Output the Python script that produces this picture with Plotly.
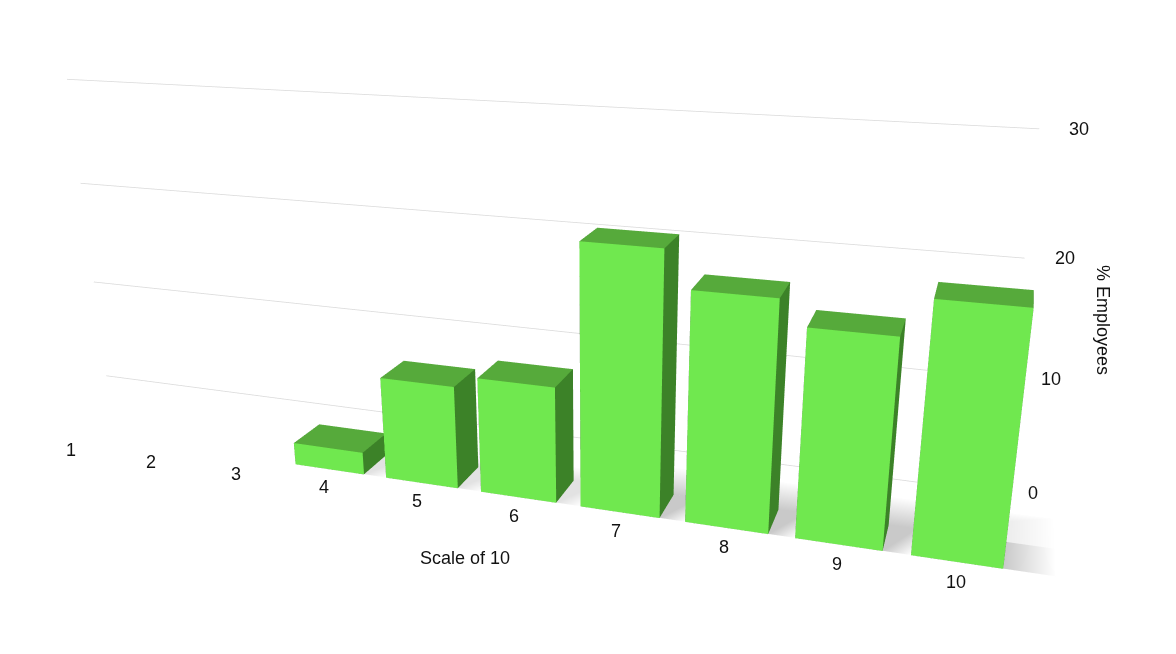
import plotly.graph_objects as go

# survey answers, scale of 10
scores = [1, 2, 3, 4, 5, 6, 7, 8, 9, 10]
pct_employees = [0, 0, 0, 2, 9, 10, 22, 19, 17, 20]
z_ticks = [0, 10, 20, 30]

front = "#70e84f"
side = "#3c8228"
top = "#56aa3b"

X0, X1 = 0.2, 11.6       # scene x range
WALL_END = 10.3          # where grid lines stop
Y0, Y1 = 0.0, 1.6
U = 0.28                 # scene units per category

xs, ys, zs, ii, jj, kk, fc = [], [], [], [], [], [], []
half = 0.38
b0, b1 = 0.1, 0.6
for s, v in zip(scores, pct_employees):
    if v <= 0:
        continue
    n = len(xs)
    for z in (0, v):
        for (x, y) in ((s - half, b0), (s + half, b0), (s + half, b1), (s - half, b1)):
            xs.append(x); ys.append(y); zs.append(z)
    faces = [
        ((0, 1, 5), front), ((0, 5, 4), front),      # front
        ((1, 2, 6), side), ((1, 6, 5), side),        # right
        ((4, 5, 6), top), ((4, 6, 7), top),          # top
        ((3, 0, 4), side), ((3, 4, 7), side),        # left
        ((2, 3, 7), side), ((2, 7, 6), side),        # back
        ((0, 2, 1), side), ((0, 3, 2), side),        # bottom
    ]
    for (a, b, c), col in faces:
        ii.append(n + a); jj.append(n + b); kk.append(n + c); fc.append(col)

# soft floor shadow behind / right of each bar
sx, sy, sz, si, sj, sk, sc = [], [], [], [], [], [], []


def quad(pts, cols):
    n = len(sx)
    for (x, y), c in zip(pts, cols):
        sx.append(x); sy.append(y); sz.append(0.02); sc.append(c)
    si.extend([n, n]); sj.extend([n + 1, n + 2]); sk.extend([n + 2, n + 3])


for s, v in zip(scores, pct_employees):
    if v <= 0:
        continue
    last = s == scores[-1]
    g = "#c9c9c9" if v >= 15 else "#e2e2e2"
    w = "#ffffff"
    far = b1 + (0.6 if v >= 15 else 0.3)
    reach = 0.8 if last else 1 - half
    quad([(s - half, b1), (s + reach, b1), (s + reach, far), (s - half, far)],
         [g, w if last else g, w, w])
    quad([(s + half, b0), (s + reach, b0), (s + reach, b1), (s + half, b1)],
         [g, w, w if last else g, g])

fig = go.Figure()

fig.add_trace(go.Mesh3d(
    x=sx, y=sy, z=sz, i=si, j=sj, k=sk, vertexcolor=sc,
    lighting=dict(ambient=1, diffuse=0, specular=0, fresnel=0),
    hoverinfo="skip", showscale=False,
))

# back wall grid lines
gx, gy, gz = [], [], []
for t in z_ticks:
    gx += [X0, WALL_END, None]; gy += [Y1, Y1, None]; gz += [t, t, None]
fig.add_trace(go.Scatter3d(x=gx, y=gy, z=gz, mode="lines",
                           line=dict(color="#d9d9d9", width=1.5),
                           hoverinfo="skip", showlegend=False))

fig.add_trace(go.Mesh3d(
    x=xs, y=ys, z=zs, i=ii, j=jj, k=kk, facecolor=fc, flatshading=True,
    lighting=dict(ambient=1, diffuse=0, specular=0, fresnel=0),
    hoverinfo="skip", showscale=False,
))

font = dict(family="Liberation Sans, Arial", size=18, color="#111")
notes = []
for s in scores:
    notes.append(dict(x=s, y=Y0, z=0, text=str(s), showarrow=False, font=font,
                      yanchor="top", yshift=-2))
for t in z_ticks:
    notes.append(dict(x=WALL_END, y=Y1, z=t, text=str(t), showarrow=False, font=font,
                      xanchor="left", xshift=28))
notes.append(dict(x=5.5, y=Y0, z=0, text="Scale of 10", showarrow=False, font=font,
                  yanchor="top", yshift=-52))
notes.append(dict(x=WALL_END, y=Y1, z=15, text="% Employees", showarrow=False, font=font,
                  textangle=90, xshift=86))

hidden = dict(showgrid=False, zeroline=False, showline=False, showbackground=False,
              showticklabels=False, ticks="", title=dict(text=""), showspikes=False)
fig.update_layout(
    width=1176, height=654,
    paper_bgcolor="white",
    margin=dict(l=0, r=0, t=0, b=0),
    scene=dict(
        xaxis=dict(hidden, range=[X0, X1]),
        yaxis=dict(hidden, range=[Y0, Y1]),
        zaxis=dict(hidden, range=[0, 30]),
        aspectmode="manual",
        aspectratio=dict(x=(X1 - X0) * U, y=(Y1 - Y0) * U, z=0.97),
        camera=dict(eye=dict(x=1.17, y=-3.04, z=1.02), center=dict(x=0.18, y=0, z=-0.08),
                    projection=dict(type="perspective")),
        annotations=notes,
    ),
)

# narrower lens than plotly's default 45 degrees
fov_js = """
var gd = document.getElementById('{plot_id}');
function setFov() {
    var s = gd._fullLayout && gd._fullLayout.scene && gd._fullLayout.scene._scene;
    if (!s || !s.glplot) { return setTimeout(setFov, 30); }
    s.glplot.fovy = 0.5;
    s.glplot.dirty = true;
    s.glplot.redraw();
}
setFov();
"""
fig.write_html("out.html", post_script=fov_js)
